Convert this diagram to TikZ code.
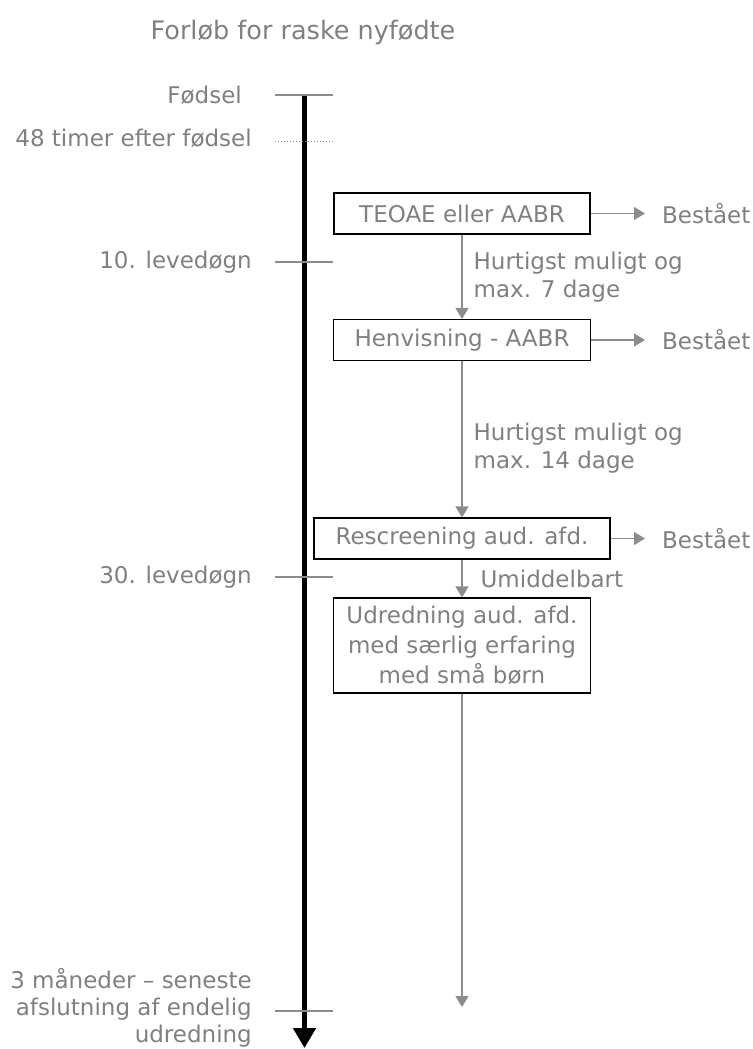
\documentclass[tikz,border=0pt]{standalone}
\usepackage{fontspec}
\setmainfont{DejaVu Sans}
\usepackage{xcolor}
\usetikzlibrary{arrows.meta,positioning}

\definecolor{txtgray}{RGB}{128,128,128}
\definecolor{lngray}{RGB}{140,140,140}

\begin{document}
\begin{tikzpicture}[x=1pt, y=-1pt,
    every node/.style={text=txtgray, font=\fontsize{23}{28}\selectfont, inner sep=0pt},
    stage/.style={draw=black, line width=1.1pt, align=center, minimum height=41pt},
    pass/.style={anchor=west},
    flow/.style={draw=lngray, line width=1.3pt, -{Triangle[width=13pt,length=11pt]}},
    tick/.style={draw=lngray, line width=1.3pt},
    when/.style={anchor=east, align=right}]
  \useasboundingbox (0,0) rectangle (752,1049);

  \node (title) at (303,32) {\fontsize{25.5}{30}\selectfont Forløb for raske nyfødte};

  % time axis
  \coordinate (top) at (304.5,95);
  \coordinate (bot) at (304.5,1048);
  \draw[line width=5pt, -{Triangle[width=22pt,length=20pt]}] (top) -- (bot);

  \foreach \y in {95,262,577,1011}
    \draw[tick] (275,\y) -- (333,\y);
  \draw[draw=lngray, line width=1pt, dotted] (275,141) -- (333,141);

  \node[when] (t0)  at (242,95)   {Fødsel};
  \node[when] (t48) at (252,138)  {48 timer efter fødsel};
  \node[when] (t10) at (252,262)  {10. levedøgn};
  \node[when] (t30) at (252,577)  {30. levedøgn};
  \node[when, font=\fontsize{23}{27}\selectfont] (t3m) at (252,1008) {3 måneder – seneste\\afslutning af endelig\\udredning};

  % screening steps
  \node[stage, minimum width=256pt] (S1) at (462,213.5) {TEOAE eller AABR};
  \node[stage, minimum width=257pt] (S2) at (462,340)   {Henvisning - AABR};
  \node[stage, minimum width=296pt] (S3) at (462,538.5) {Rescreening aud. afd.};
  \node[stage, minimum width=257pt, minimum height=95pt, font=\fontsize{23}{30}\selectfont]
                                    (S4) at (462,645.5) {Udredning aud. afd.\\med særlig erfaring\\med små børn};
  \coordinate (end) at (462,1007);

  \coordinate (px) at (662,0);
  \node[pass] (P1) at (S1.east -| px) {Bestået};
  \node[pass] (P2) at (S2.east -| px) {Bestået};
  \node[pass] (P3) at (S3.east -| px) {Bestået};

  \path (S1) edge[flow, shorten >=17pt] (P1)
        (S2) edge[flow, shorten >=17pt] (P2)
        (S3) edge[flow, shorten >=17pt] (P3);

  \path (S1) edge[flow] node[anchor=west, align=left, xshift=11pt] {Hurtigst muligt og\\max. 7 dage} (S2)
        (S2) edge[flow] node[anchor=west, align=left, xshift=11pt, pos=0.56] {Hurtigst muligt og\\max. 14 dage} (S3)
        (S3) edge[flow] node[anchor=west, xshift=18pt] {Umiddelbart} (S4)
        (S4) edge[flow] (end);
\end{tikzpicture}
\end{document}
